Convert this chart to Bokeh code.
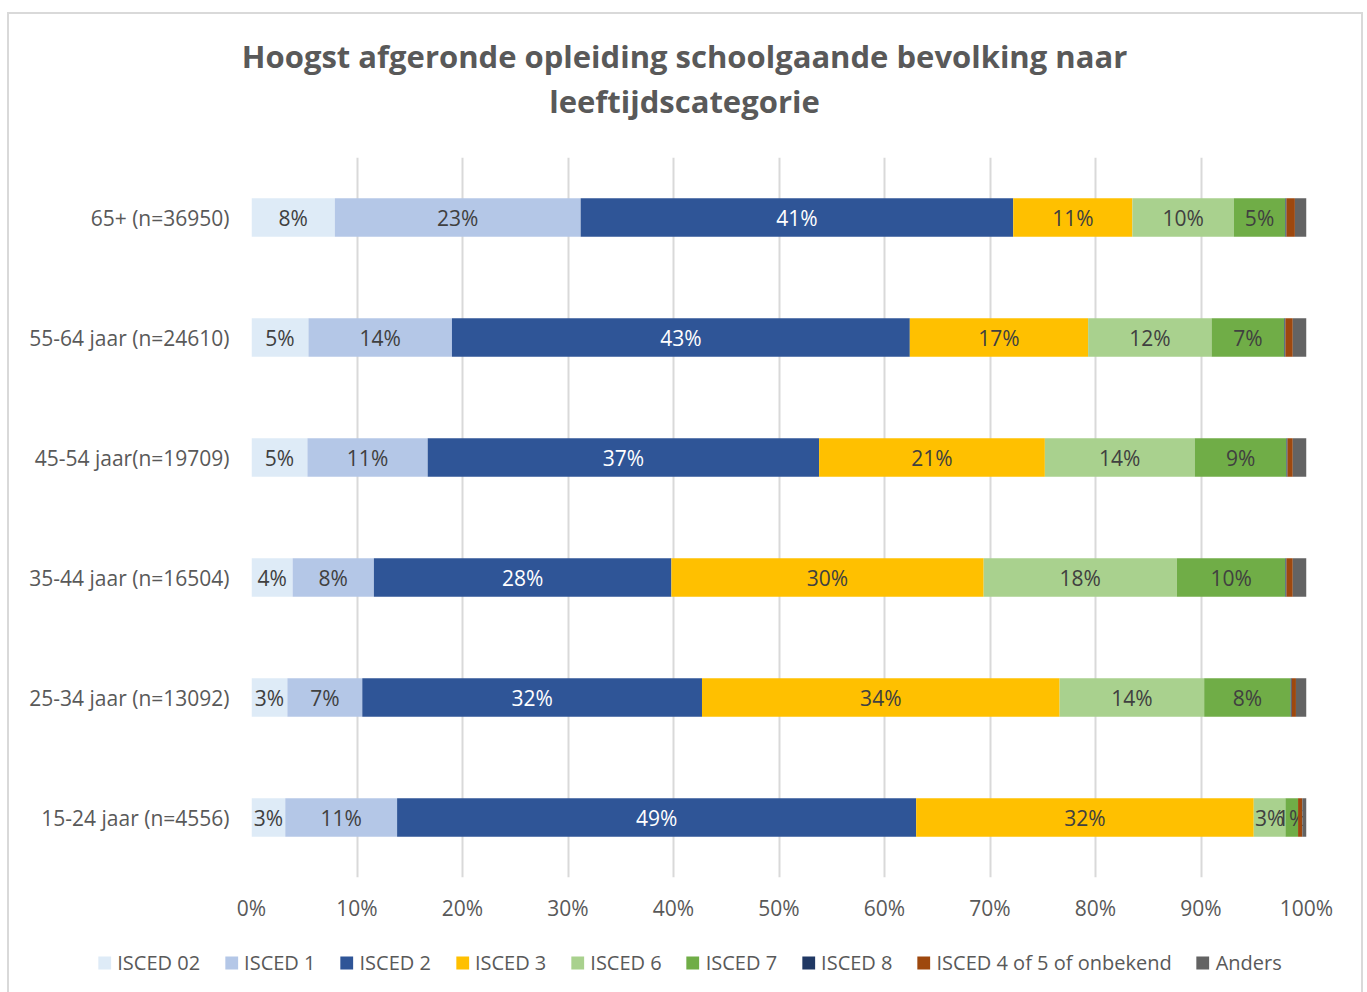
from bokeh.plotting import figure
from bokeh.models import ColumnDataSource, Legend, LegendItem, Label, FixedTicker
from bokeh.layouts import column
from bokeh.embed import file_html
from bokeh.resources import INLINE
from bokeh.core.properties import value

categories = ["15-24 jaar (n=4556)", "25-34 jaar (n=13092)", "35-44 jaar (n=16504)",
              "45-54 jaar(n=19709)", "55-64 jaar (n=24610)", "65+ (n=36950)"]

series_names = ["ISCED 02", "ISCED 1", "ISCED 2", "ISCED 3", "ISCED 6", "ISCED 7",
                "ISCED 8", "ISCED 4 of 5 of onbekend", "Anders"]

isced_02 = [3.2, 3.4, 3.9, 5.3, 5.4, 7.9]
isced_1 = [10.6, 7.1, 7.7, 11.4, 13.6, 23.3]
isced_2 = [49.2, 32.2, 28.2, 37.1, 43.4, 41.0]
isced_3 = [32.0, 33.9, 29.6, 21.4, 16.9, 11.3]
isced_6 = [3.0, 13.7, 18.3, 14.2, 11.7, 9.6]
isced_7 = [1.2, 8.2, 10.3, 8.7, 6.9, 4.9]
isced_8 = [0.0, 0.1, 0.1, 0.1, 0.1, 0.1]
isced_45 = [0.4, 0.4, 0.6, 0.5, 0.7, 0.8]
anders = [0.4, 1.0, 1.3, 1.3, 1.3, 1.1]

series_values = [isced_02, isced_1, isced_2, isced_3, isced_6, isced_7, isced_8, isced_45, anders]
colors = ["#DEEBF7", "#B4C7E7", "#2F5597", "#FFC000", "#A9D18E", "#70AD47",
          "#203864", "#9E480E", "#636363"]
label_colors = ["#404040", "#404040", "#FFFFFF", "#404040", "#404040", "#404040", None, None, None]

x_ticks = [0, 10, 20, 30, 40, 50, 60, 70, 80, 90, 100]
x_tick_labels = ["0%", "10%", "20%", "30%", "40%", "50%", "60%", "70%", "80%", "90%", "100%"]

title_line1 = "Hoogst afgeronde opleiding schoolgaande bevolking naar"
title_line2 = "leeftijdscategorie"

FONT = "Open Sans"
GREY = "#595959"
W = 1352


def bare(fig):
    fig.outline_line_color = None
    fig.grid.visible = False
    fig.background_fill_color = "white"
    fig.border_fill_color = "white"


# ---- title ----
tf = figure(width=W, height=143, x_range=(0, W), y_range=(0, 143), output_backend="svg",
            toolbar_location=None, x_axis_location=None, y_axis_location=None, min_border=0)
tf.frame_align = False
bare(tf)
for txt, yy in ((title_line1, 102), (title_line2, 57)):
    tf.add_layout(Label(x=W / 2 - 1, y=yy, text=txt, text_align="center", text_baseline="middle",
                        text_font=FONT, text_font_size="31px", text_font_style="bold",
                        text_color=GREY))

# ---- main chart ----
p = figure(width=W, height=773, y_range=categories, x_range=(0, 100),
           output_backend="svg", toolbar_location=None,
           min_border_left=242, min_border_right=55, min_border_top=0, min_border_bottom=53)
p.outline_line_color = None
p.background_fill_color = "white"

# ---- legend (its own strip below the chart) ----
lf = figure(width=W, height=64, y_range=categories, x_range=(0, 100), output_backend="svg",
            toolbar_location=None, x_axis_location=None, y_axis_location=None,
            min_border=0, min_border_left=8)
lf.frame_align = False
bare(lf)

left = [0.0] * len(categories)
items = []
for name, vals, col, lcol in zip(series_names, series_values, colors, label_colors):
    right = [l + v for l, v in zip(left, vals)]
    mid = [(l + r) / 2 for l, r in zip(left, right)]
    labels = [f"{round(v)}%" for v in vals]
    src = ColumnDataSource(dict(cat=categories, left=left, right=right, mid=mid, lbl=labels))
    p.hbar(y="cat", left="left", right="right", height=0.32, source=src,
           fill_color=col, line_color=None)
    if lcol is not None:
        p.text(x="mid", y="cat", text="lbl", source=src, text_align="center",
               text_baseline="middle", text_font=value(FONT), text_font_size="21px",
               text_color=lcol)
    # hidden twin in the legend strip, only used for the legend swatch
    lr = lf.hbar(y="cat", left="left", right="right", height=0.32, source=src,
                 fill_color=col, line_color=None, visible=False)
    items.append(LegendItem(label=name, renderers=[lr]))
    left = right

p.xgrid.grid_line_color = "#d9d9d9"
p.xgrid.grid_line_width = 2
p.ygrid.grid_line_color = None

p.xaxis.ticker = FixedTicker(ticks=x_ticks)
p.xaxis.major_label_overrides = {t_: s for t_, s in zip(x_ticks, x_tick_labels)}
for ax in (p.xaxis, p.yaxis):
    ax.axis_line_color = None
    ax.major_tick_line_color = None
    ax.minor_tick_line_color = None
    ax.major_label_text_font = FONT
    ax.major_label_text_font_size = "21px"
    ax.major_label_text_color = GREY
p.xaxis.major_label_standoff = 10
p.yaxis.major_label_standoff = 16
p.y_range.range_padding = 0

legend = Legend(items=items, orientation="horizontal", location="center",
                label_text_font=FONT, label_text_font_size="20px", label_text_color=GREY,
                glyph_width=16, glyph_height=16, label_standoff=5, spacing=23,
                padding=0, margin=0, border_line_color=None, background_fill_alpha=0,
                inactive_fill_alpha=0)
lf.add_layout(legend, "center")

layout = column(tf, p, lf, spacing=0,
                styles={"margin-left": "7px", "margin-top": "12px",
                        "border": "2px solid #d9d9d9", "background": "white"})

open("out.html", "w").write(file_html(layout, INLINE))
